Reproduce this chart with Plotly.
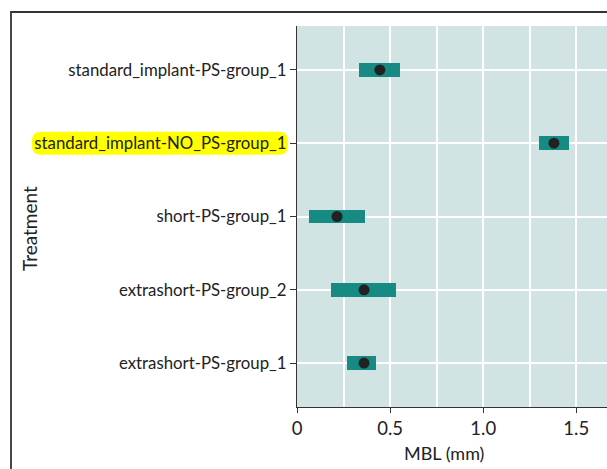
import plotly.graph_objects as go

treatments = [
    "extrashort-PS-group_1",
    "extrashort-PS-group_2",
    "short-PS-group_1",
    "standard_implant-NO_PS-group_1",
    "standard_implant-PS-group_1",
]
mbl_mean = [0.36, 0.36, 0.215, 1.38, 0.445]
mbl_low = [0.27, 0.185, 0.062, 1.30, 0.335]
mbl_high = [0.426, 0.532, 0.367, 1.461, 0.553]
highlighted = "standard_implant-NO_PS-group_1"

x_ticks = [0, 0.5, 1.0, 1.5]
x_tick_text = ["0", "0.5", "1.0", "1.5"]

FONT = "Lato"
W, H = 607, 469
L, R, T, B = 297, 0, 26, 62

fig = go.Figure()
fig.add_trace(go.Bar(
    y=treatments,
    x=[h - l for h, l in zip(mbl_high, mbl_low)],
    base=mbl_low,
    orientation="h",
    width=0.19,
    marker=dict(color="#178a84", line=dict(width=0)),
    hoverinfo="skip",
))
fig.add_trace(go.Scatter(
    y=treatments,
    x=mbl_mean,
    mode="markers",
    marker=dict(color="#222222", size=11),
))

pw = W - L - R
ph = H - T - B
cat_px = ph / 5.2

# rounded yellow highlight behind the label
idx = treatments.index(highlighted)
x0 = (32 - L) / pw
x1 = (288 - L) / pw
rx = 9 / pw
hh = 11.5 / cat_px
ry = 9 / cat_px
y0, y1 = idx - hh, idx + hh
path = (
    f"M {x0 + rx},{y0} L {x1 - rx},{y0} Q {x1},{y0} {x1},{y0 + ry} "
    f"L {x1},{y1 - ry} Q {x1},{y1} {x1 - rx},{y1} "
    f"L {x0 + rx},{y1} Q {x0},{y1} {x0},{y1 - ry} "
    f"L {x0},{y0 + ry} Q {x0},{y0} {x0 + rx},{y0} Z"
)
fig.add_shape(
    type="path", xref="paper", yref="y", path=path,
    fillcolor="#ffff00", line=dict(width=0), layer="below",
)

# outer frame
fig.add_shape(
    type="rect", xref="paper", yref="paper",
    x0=(11 - L) / pw, x1=1.2, y0=-0.3, y1=(H - B - 12) / ph,
    line=dict(color="#333333", width=1.8), fillcolor="rgba(0,0,0,0)", layer="below",
)

fig.update_layout(
    width=W, height=H,
    margin=dict(l=L, r=R, t=T, b=B),
    paper_bgcolor="white",
    plot_bgcolor="#d2e3e3",
    showlegend=False,
    font=dict(family=FONT, color="#222222"),
    bargap=0,
)
fig.update_xaxes(
    range=[0, 1.665],
    tickvals=x_ticks, ticktext=x_tick_text,
    tickfont=dict(size=18.5, family=FONT, color="#222222"),
    showgrid=True, gridcolor="white", gridwidth=1.5,
    minor=dict(dtick=0.25, tick0=0, showgrid=True, gridcolor="white", gridwidth=1.5),
    showline=True, linecolor="#333333", linewidth=1.2,
    ticks="outside", ticklen=5, tickcolor="#333333",
    zeroline=False,
)
fig.update_yaxes(
    categoryorder="array", categoryarray=treatments,
    range=[-0.6, 4.6],
    tickfont=dict(size=16.8, family=FONT, color="#222222"),
    showgrid=True, gridcolor="white", gridwidth=1.5,
    showline=True, linecolor="#333333", linewidth=1.2,
    ticks="outside", ticklen=6, tickcolor="#333333",
    zeroline=False,
)
fig.add_annotation(
    text="MBL (mm)", xref="paper", yref="paper",
    x=(444 - L) / pw, y=-(453 - (H - B)) / ph,
    showarrow=False, font=dict(size=18, family=FONT, color="#222222"),
    xanchor="center", yanchor="middle",
)
fig.add_annotation(
    text="Treatment", xref="paper", yref="paper",
    x=(29 - L) / pw, y=(H - B - 229) / ph,
    showarrow=False, textangle=-90, font=dict(size=19, family=FONT, color="#222222"),
    xanchor="center", yanchor="middle",
)

fig.write_html("out.html")
